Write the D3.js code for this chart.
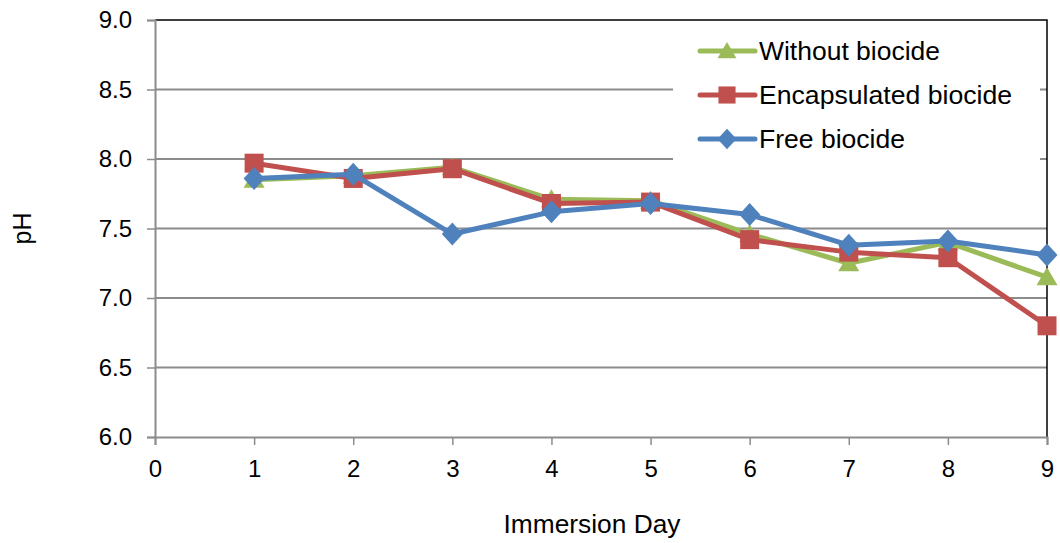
<!DOCTYPE html>
<html>
<head>
<meta charset="utf-8">
<script src="https://cdn.jsdelivr.net/npm/d3@7"></script>
<style>
  body { margin: 0; background: #fff; }
  text { font-family: "Liberation Sans", Arial, sans-serif; fill: #000; }
</style>
</head>
<body>
<div id="chart"></div>
<script>
var days = [1, 2, 3, 4, 5, 6, 7, 8, 9];
var withoutBiocide = [7.85, 7.88, 7.94, 7.71, 7.70, 7.46, 7.25, 7.40, 7.15];
var encapsulatedBiocide = [7.97, 7.86, 7.93, 7.68, 7.69, 7.42, 7.33, 7.29, 6.80];
var freeBiocide = [7.86, 7.89, 7.46, 7.62, 7.68, 7.60, 7.38, 7.41, 7.31];
var yTicks = [6.0, 6.5, 7.0, 7.5, 8.0, 8.5, 9.0];
var xTicks = [0, 1, 2, 3, 4, 5, 6, 7, 8, 9];

var series = [
    {name: "Without biocide", values: withoutBiocide, color: "#9BBB59", symbol: "triangle"},
    {name: "Encapsulated biocide", values: encapsulatedBiocide, color: "#C0504D", symbol: "square"},
    {name: "Free biocide", values: freeBiocide, color: "#4F81BD", symbol: "diamond"}
];

var W = 1060, H = 543;
var margin = {top: 20, right: 13, bottom: 106, left: 155};
var width = W - margin.left - margin.right,
    height = H - margin.top - margin.bottom;

var svg = d3.select("#chart").append("svg")
    .attr("width", W)
    .attr("height", H);

var g = svg.append("g")
    .attr("transform", "translate(" + margin.left + "," + margin.top + ")");

var x = d3.scaleLinear().domain([0, 9]).range([0, width]);
var y = d3.scaleLinear().domain([6, 9]).range([height, 0]);

// gridlines
g.selectAll(".grid")
    .data(yTicks.filter(function (d) { return d > 6 && d < 9; }))
    .enter().append("line")
    .attr("x1", 0).attr("x2", width)
    .attr("y1", function (d) { return y(d); })
    .attr("y2", function (d) { return y(d); })
    .attr("stroke", "#8c8c8c")
    .attr("stroke-width", 2);

// top and right border
g.append("path")
    .attr("d", "M0," + y(9) + "H" + width + "V" + height)
    .attr("fill", "none")
    .attr("stroke", "#000")
    .attr("stroke-width", 1.5);

// y axis
var yAxis = g.append("g")
    .call(d3.axisLeft(y).tickValues(yTicks).tickSize(8).tickPadding(15)
        .tickFormat(d3.format(".1f")));
// x axis
var xAxis = g.append("g")
    .attr("transform", "translate(0," + height + ")")
    .call(d3.axisBottom(x).tickValues(xTicks).tickSize(8).tickPadding(13)
        .tickFormat(d3.format("d")));

[yAxis, xAxis].forEach(function (ax) {
    ax.select(".domain").attr("stroke", "#8c8c8c").attr("stroke-width", 2);
    ax.selectAll(".tick line").attr("stroke", "#8c8c8c").attr("stroke-width", 1.5);
    ax.selectAll(".tick text")
        .style("font-family", "'Liberation Sans', Arial, sans-serif")
        .style("font-size", "24px")
        .attr("fill", "#000");
});
xAxis.selectAll(".tick text").attr("dy", "0.8em");

// marker shapes (Excel-like proportions)
function marker(name, k) {
    k = k || 1;
    var p = d3.path();
    if (name === "triangle") {
        p.moveTo(0, -10 * k); p.lineTo(10.5 * k, 8 * k); p.lineTo(-10.5 * k, 8 * k); p.closePath();
    } else if (name === "square") {
        p.rect(-9.5 * k, -9.5 * k, 19 * k, 19 * k);
    } else {
        p.moveTo(0, -11.5 * k); p.lineTo(10.5 * k, 0); p.lineTo(0, 11.5 * k); p.lineTo(-10.5 * k, 0); p.closePath();
    }
    return p.toString();
}

var line = d3.line()
    .x(function (d, i) { return x(days[i]); })
    .y(function (d) { return y(d); });

series.forEach(function (s) {
    var sg = g.append("g");
    sg.append("path")
        .datum(s.values)
        .attr("d", line)
        .attr("fill", "none")
        .attr("stroke", s.color)
        .attr("stroke-width", 5)
        .attr("stroke-linejoin", "round");
    sg.selectAll(".pt")
        .data(s.values)
        .enter().append("path")
        .attr("transform", function (d, i) {
            return "translate(" + x(days[i]) + "," + y(d) + ")";
        })
        .attr("d", marker(s.symbol))
        .attr("fill", s.color);
});

// legend
var lg = svg.append("g");
lg.append("rect")
    .attr("x", 673).attr("y", 28)
    .attr("width", 367).attr("height", 136)
    .attr("fill", "#fff");
series.forEach(function (s, i) {
    var ly = 51 + i * 44;
    lg.append("line")
        .attr("x1", 700).attr("x2", 755)
        .attr("y1", ly).attr("y2", ly)
        .attr("stroke", s.color)
        .attr("stroke-width", 5)
        .attr("stroke-linecap", "round");
    lg.append("path")
        .attr("transform", "translate(727," + ly + ")")
        .attr("d", marker(s.symbol, 0.9))
        .attr("fill", s.color);
    lg.append("text")
        .attr("x", 759).attr("y", ly)
        .attr("dy", "0.35em")
        .style("font-size", "25px")
        .attr("textLength", [181, 253, 146][i])
        .attr("lengthAdjust", "spacingAndGlyphs")
        .text(s.name);
});

// axis titles
svg.append("text")
    .attr("x", 592).attr("y", 533)
    .attr("text-anchor", "middle")
    .style("font-size", "25px")
    .attr("textLength", 177)
    .attr("lengthAdjust", "spacingAndGlyphs")
    .text("Immersion Day");

svg.append("text")
    .attr("transform", "translate(22," + (margin.top + height / 2) + ") rotate(-90)")
    .attr("dy", "0.35em")
    .attr("text-anchor", "middle")
    .style("font-size", "25px")
    .text("pH");
</script>
</body>
</html>
